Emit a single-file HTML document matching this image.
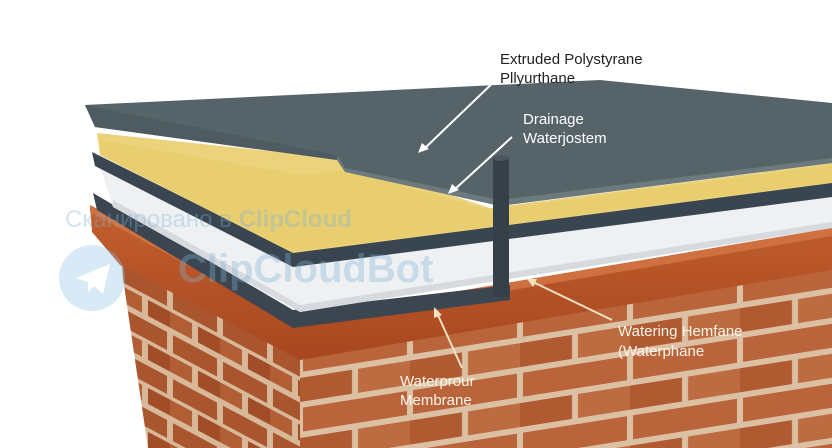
<!DOCTYPE html>
<html><head><meta charset="utf-8"><style>
html,body{margin:0;padding:0;background:#fff;}
svg{display:block;}
text{font-family:"Liberation Sans",sans-serif;}
</style></head><body>
<svg width="832" height="448" viewBox="0 0 832 448" xmlns="http://www.w3.org/2000/svg">
<defs>
<pattern id="brick" width="110" height="60" patternUnits="userSpaceOnUse" patternTransform="translate(300,345) skewY(-9)">
<rect width="110" height="60" fill="#dcc0a4"/>
<rect x="3" y="3" width="104" height="24" fill="#b9643a"/>
<rect x="-52" y="33" width="104" height="24" fill="#b05a32"/>
<rect x="58" y="33" width="104" height="24" fill="#bd6b40"/>
</pattern>
<pattern id="brickL" width="50" height="44" patternUnits="userSpaceOnUse" patternTransform="translate(120,260) skewY(28)">
<rect width="50" height="44" fill="#d8b899"/>
<rect x="3" y="3" width="44" height="18" fill="#a9552e"/>
<rect x="-22" y="25" width="44" height="16" fill="#b15e35"/>
<rect x="28" y="25" width="44" height="16" fill="#a04d28"/>
</pattern>
<linearGradient id="cap" x1="0" y1="0" x2="0" y2="1">
<stop offset="0" stop-color="#c2602f"/><stop offset="1" stop-color="#a8461f"/>
</linearGradient>
</defs>
<rect width="832" height="448" fill="#fff"/>
<!-- brick wall -->
<polygon points="300,350 832,262 832,448 300,448" fill="url(#brick)"/>
<polygon points="120,258 300,350 300,448 148,448" fill="url(#brickL)"/>
<!-- brick cap -->
<polygon points="90,205 300,318 832,228 832,270 300,360 120,265 92,232" fill="url(#cap)"/>
<polygon points="90,205 300,318 832,228 832,236 300,326 90,212" fill="#cf7040"/>
<!-- lower dark membrane -->
<polygon points="93,193 293,310 510,285 510,300 293,328 97,210" fill="#3b4650"/>
<!-- white layer -->
<polygon points="100,165 293,265 832,195 832,228 300,312 113,207" fill="#eef0f2"/>
<polygon points="113,200 300,305 832,222 832,228 300,312 113,207" fill="#d6dade"/>
<!-- upper dark membrane -->
<polygon points="92,152 293,252 832,182 832,197 293,267 95,166" fill="#394550"/>
<!-- yellow -->
<polygon points="97,133 337,158 490,208 832,163 832,183 293,253 100,155" fill="#ecd27a"/>
<polygon points="100,140 300,175 345,170 490,210 832,165 832,182 293,252 100,155" fill="#e8cd6e" opacity=".8"/>
<!-- gray slab -->
<polygon points="85,105 600,80 832,103 832,163 500,203 345,170 337,157 95,126" fill="#56646a"/>
<polygon points="85,105 337,155 345,168 500,200 832,158 832,163 500,206 345,172 337,160 95,127" fill="#6c7a7e"/>
<polygon points="85,105 337,155 337,160 95,127" fill="#4e5b60"/>
<!-- vertical post -->
<rect x="493" y="157" width="16" height="140" fill="#364049"/>
<ellipse cx="501" cy="158" rx="8" ry="3" fill="#4a5660"/>
<!-- watermark -->
<g opacity="0.35">
<circle cx="92" cy="278" r="33" fill="#8fc4e6"/>
<polygon points="76,278 110,264 103,294 94,286 88,292 88,282" fill="#fff"/>
<text x="65" y="227" font-size="24" fill="#7fb2d6">Сканировано в <tspan font-weight="bold">ClipCloud</tspan></text>
<text x="178" y="282" font-size="40" font-weight="bold" fill="#7fb2d6">ClipCloudBot</text>
</g>
<!-- labels -->
<text x="500" y="64" font-size="15" fill="#222">Extruded Polystyrane</text>
<text x="500" y="83" font-size="15" fill="#222">Pllyurthane</text>
<text x="523" y="124" font-size="15" fill="#fff">Drainage</text>
<text x="523" y="143" font-size="15" fill="#fff">Waterjostem</text>
<g stroke="#fff" stroke-width="2" fill="#fff">
<line x1="500" y1="76" x2="424" y2="149"/>
<polygon points="418,153 422,143 429,149" stroke="none"/>
<line x1="512" y1="137" x2="454" y2="190"/>
<polygon points="448,194 452,184 459,190" stroke="none"/>
</g>
<g stroke="#f1e3c2" stroke-width="2" fill="#f1e3c2">
<line x1="612" y1="320" x2="533" y2="282"/>
<polygon points="527,279 537,279 533,287" stroke="none"/>
<line x1="462" y1="368" x2="437" y2="313"/>
<polygon points="434,307 442,315 434,318" stroke="none"/>
</g>
<text x="618" y="336" font-size="15" fill="#fff6ea">Watering Hemfane</text>
<text x="618" y="356" font-size="15" fill="#fff6ea">(Waterphane</text>
<text x="400" y="386" font-size="15" fill="#fff6ea">Waterprour</text>
<text x="400" y="405" font-size="15" fill="#fff6ea">Membrane</text>
</svg>
</body></html>
